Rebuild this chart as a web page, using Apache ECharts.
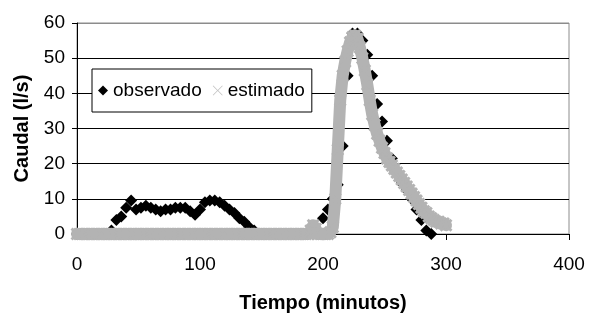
<!DOCTYPE html>
<html>
<head>
<meta charset="utf-8">
<script src="https://cdn.jsdelivr.net/npm/echarts@6/dist/echarts.min.js"></script>
<style>
html,body{margin:0;padding:0;background:#fff;}
#chart{width:596px;height:318px;}
</style>
</head>
<body>
<div id="chart"></div>
<script>
// observed flow (l/s), every 4 minutes
const obsMinutes = [0,4,8,12,16,20,24,28,32,36,40,44,48,52,56,60,64,68,72,76,80,84,88,92,96,100,104,108,112,116,120,124,128,132,136,140,144,148,152,156,160,164,168,172,176,180,184,188,192,196,200,204,208,212,216,220,224,228,232,236,240,244,248,252,256,260,264,268,272,276,280,284,288];
const obsFlow = [0,0,0,0,0,0,0,1,4,5,7.5,9.5,7,7.5,8,7.5,7,6.5,7,7,7.5,7.5,7.5,6.5,5.5,7,9,9.5,9.5,9,8,7,6,4.5,3.5,2,1,0,0,0,0,0,0,0,0,0,0,0,0,0,4.5,7,10,14,25,45,57,57,55,51,45,37,32,26.5,21.5,17.5,14.5,12.5,10,7,4,1,0];

// estimated flow (l/s), every 2 minutes
const estMinutes = [0,2,4,6,8,10,12,14,16,18,20,22,24,26,28,30,32,34,36,38,40,42,44,46,48,50,52,54,56,58,60,62,64,66,68,70,72,74,76,78,80,82,84,86,88,90,92,94,96,98,100,102,104,106,108,110,112,114,116,118,120,122,124,126,128,130,132,134,136,138,140,142,144,146,148,150,152,154,156,158,160,162,164,166,168,170,172,174,176,178,180,182,184,186,188,190,192,194,196,198,200,202,204,206,208,210,212,214,216,218,220,222,224,226,228,230,232,234,236,238,240,242,244,246,248,250,252,254,256,258,260,262,264,266,268,270,272,274,276,278,280,282,284,286,288,290,292,294,296,298,300];
const estFlow = [0,0,0,0,0,0,0,0,0,0,0,0,0,0,0,0,0,0,0,0,0,0,0,0,0,0,0,0,0,0,0,0,0,0,0,0,0,0,0,0,0,0,0,0,0,0,0,0,0,0,0,0,0,0,0,0,0,0,0,0,0,0,0,0,0,0,0,0,0,0,0,0,0,0,0,0,0,0,0,0,0,0,0,0,0,0,0,0,0,0,0,0,0,0,0,
1,2.5,1.5,0,0,0,0,0,0.5,2,
10,24,38,45,49,52,54.5,56,56.5,55.5,
53,50,46.5,42.5,38,34,31,28.5,26.5,24.5,
23,21.5,20.5,19.5,18.5,17.5,16.5,15.5,14.5,13.5,
12.5,11.5,10.5,9.5,8.5,7.5,6.5,6,5,4.5,
4,3.5,3.5,3,3,2.5];

const xTicks = [0,100,200,300,400];
const yTicks = [0,10,20,30,40,50,60];
const seriesNames = ['observado','estimado'];
const xTitle = 'Tiempo (minutos)';
const yTitle = 'Caudal (l/s)';

const FONT = '"Liberation Sans", Arial, sans-serif';
const X_BOLD = 'path://M0,1.6L1.6,0L5,3.4L8.4,0L10,1.6L6.6,5L10,8.4L8.4,10L5,6.6L1.6,10L0,8.4L3.4,5Z';
const X_THIN = 'path://M0,0.6L0.6,0L5,4.4L9.4,0L10,0.6L5.6,5L10,9.4L9.4,10L5,5.6L0.6,10L0,9.4L4.4,5Z';

const obsData = obsMinutes.map((t, i) => [t, obsFlow[i]]);
const estData = estMinutes.map((t, i) => [t, estFlow[i]]);

const chart = echarts.init(document.getElementById('chart'), null, {renderer: 'canvas'});
chart.setOption({
  backgroundColor: '#fff',
  animation: false,
  textStyle: {fontFamily: FONT},
  grid: {left: 77, right: 27, top: 23, bottom: 84, show: true, borderColor: '#8c8c8c', borderWidth: 1, backgroundColor: 'transparent'},
  xAxis: {
    type: 'value', min: xTicks[0], max: xTicks[xTicks.length - 1], interval: 100,
    name: xTitle, nameLocation: 'middle', nameGap: 59,
    nameTextStyle: {fontFamily: FONT, fontSize: 20, fontWeight: 'bold', color: '#000'},
    axisLine: {show: true, onZero: false, lineStyle: {color: '#000', width: 1}},
    axisTick: {show: true, inside: false, length: 6, lineStyle: {color: '#000'}},
    axisLabel: {fontFamily: FONT, fontSize: 19, color: '#000', margin: 21},
    splitLine: {show: false}
  },
  yAxis: {
    type: 'value', min: yTicks[0], max: yTicks[yTicks.length - 1], interval: 10,
    name: yTitle, nameLocation: 'middle', nameGap: 43, nameRotate: 90,
    nameTextStyle: {fontFamily: FONT, fontSize: 20, fontWeight: 'bold', color: '#000'},
    axisLine: {show: true, lineStyle: {color: '#000', width: 1}},
    axisTick: {show: true, inside: false, length: 5, lineStyle: {color: '#000'}},
    axisLabel: {fontFamily: FONT, fontSize: 19, color: '#000', margin: 12},
    splitLine: {show: true, lineStyle: {color: ['#000','#000','#000','#000','#000','#000','#8c8c8c'], width: 1}}
  },
  legend: {
    left: 92, top: 69,
    orient: 'horizontal',
    backgroundColor: '#fff', borderColor: '#000', borderWidth: 1,
    padding: [12, 7, 12, 6],
    itemGap: 11, itemWidth: 10, itemHeight: 10,
    textStyle: {fontFamily: FONT, fontSize: 19, color: '#000'},
    data: [
      {name: seriesNames[0], icon: 'diamond', itemStyle: {color: '#000'}},
      {name: seriesNames[1], icon: X_THIN, itemStyle: {color: '#c4c4c4'}}
    ]
  },
  series: [
    {
      name: seriesNames[0], type: 'scatter', data: obsData,
      symbol: 'diamond', symbolSize: 12,
      itemStyle: {color: '#000', opacity: 1}, z: 2
    },
    {
      name: seriesNames[1], type: 'line', data: estData,
      symbol: X_BOLD, symbolSize: 13, showSymbol: true, showAllSymbol: true,
      lineStyle: {color: '#b3b3b3', width: 12, cap: 'round', join: 'round'},
      itemStyle: {color: '#b3b3b3', opacity: 1}, z: 3
    }
  ]
});
</script>
</body>
</html>
